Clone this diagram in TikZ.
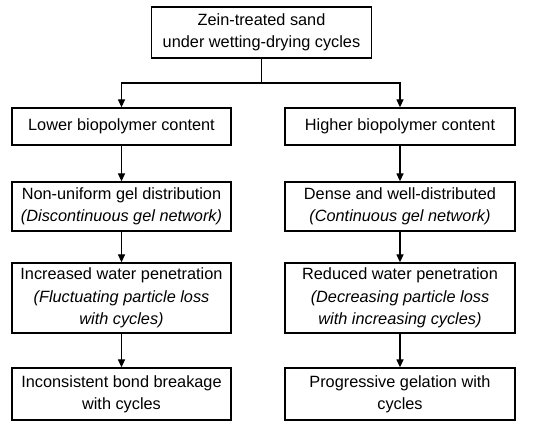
\documentclass[tikz,border=0pt]{standalone}
\usepackage{fontspec}
\setmainfont{Liberation Sans}
\usetikzlibrary{arrows.meta}
\begin{document}
\begin{tikzpicture}[x=1pt,y=1pt,
  box/.style={draw=black,line width=1.3pt,align=center,inner sep=0pt,
    font=\fontsize{16.3}{22.3}\selectfont},
  arr/.style={line width=1.3pt,-{Triangle[length=8pt,width=7pt]}},
  ln/.style={line width=1.3pt}]
\useasboundingbox (0,0) rectangle (550,-430);
\node[box,minimum width=220pt,minimum height=51pt] (top) at (261.5,-32.5) {Zein-treated sand\\under wetting-drying cycles};
\node[box,minimum width=219pt,minimum height=37pt] (l1) at (121.5,-126.5) {Lower biopolymer content};
\node[box,minimum width=230pt,minimum height=37pt] (r1) at (400,-126.5) {Higher biopolymer content};
\node[box,minimum width=219pt,minimum height=49pt] (l2) at (121.5,-206.5) {Non-uniform gel distribution\\\textit{(Discontinuous gel network)}};
\node[box,minimum width=230pt,minimum height=49pt] (r2) at (400,-206.5) {Dense and well-distributed\\\textit{(Continuous gel network)}};
\node[box,minimum width=219pt,minimum height=70pt] (l3) at (121.5,-298) {Increased water penetration\\\textit{(Fluctuating particle loss}\\\textit{with cycles)}};
\node[box,minimum width=230pt,minimum height=70pt] (r3) at (400,-298) {Reduced water penetration\\\textit{(Decreasing particle loss}\\\textit{with increasing cycles)}};
\node[box,minimum width=219pt,minimum height=52pt] (l4) at (121.5,-394) {Inconsistent bond breakage\\with cycles};
\node[box,minimum width=230pt,minimum height=52pt] (r4) at (400,-394) {Progressive gelation with\\cycles};
\coordinate (split) at (261.5,-83);
\draw[ln] (top.south) -- (split);
\draw[arr] (split) -| (l1.north);
\draw[arr] (split) -| (r1.north);
\draw[arr] (l1) -- (l2);
\draw[arr] (l2) -- (l3);
\draw[arr] (l3) -- (l4);
\draw[arr] (r1) -- (r2);
\draw[arr] (r2) -- (r3);
\draw[arr] (r3) -- (r4);
\end{tikzpicture}
\end{document}
